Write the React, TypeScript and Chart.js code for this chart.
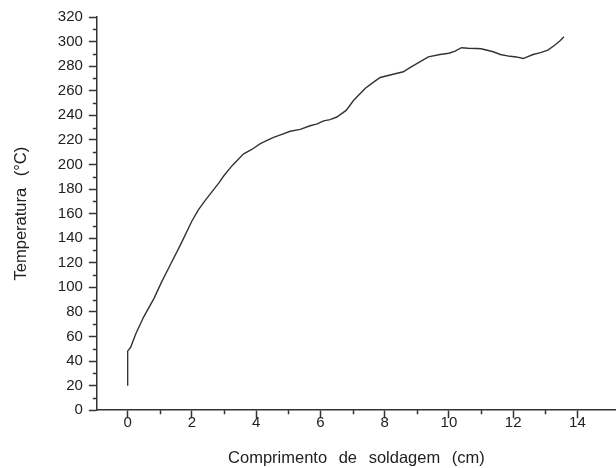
import { useEffect, useRef } from "react";
import { Chart, registerables } from "chart.js";

Chart.register(...registerables);

// Data
const lengthCm = [
  0, 0, 0.04, 0.09, 0.25, 0.5, 0.82, 1.05, 1.34, 1.65, 2.0, 2.2, 2.42, 2.84, 3.0, 3.25,
  3.61, 3.85, 4.13, 4.34, 4.54, 4.8, 5.06, 5.37, 5.68, 5.9, 6.1, 6.3, 6.51, 6.8, 7.03,
  7.39, 7.6, 7.86, 8.2, 8.58, 8.8, 9.0, 9.36, 9.72, 10.0, 10.19, 10.39, 10.6, 10.86,
  11.0, 11.38, 11.6, 11.9, 12.1, 12.31, 12.62, 12.85, 13.08, 13.29, 13.45, 13.58,
];
const temperature = [
  20, 48, 49.5, 51, 62, 76, 91, 104, 119, 135, 154, 163, 171, 185, 191, 199,
  208.7, 212, 217, 219.6, 222, 224.5, 227, 228.5, 231.5, 233, 235.5, 236.5, 238.6, 244, 252,
  261.8, 266, 270.8, 273, 275.4, 279, 282, 287.6, 289.5, 290.5, 292.2, 295, 294.6, 294.4,
  294.2, 291.7, 289.5, 288, 287.5, 286.2, 289.5, 291, 293, 297, 300.5, 304,
];

const xTickValues = [0, 2, 4, 6, 8, 10, 12, 14];
const xMinorValues = [1, 3, 5, 7, 9, 11, 13];
const yTickValues = [0, 20, 40, 60, 80, 100, 120, 140, 160, 180, 200, 220, 240, 260, 280, 300, 320];
const yMinorValues = [10, 30, 50, 70, 90, 110, 130, 150, 170, 190, 210, 230, 250, 270, 290, 310];

const xTitle = "Comprimento de soldagem (cm)";
const yTitle = "Temperatura (°C)";

const AXIS_COLOR = "#333333";
const TEXT_COLOR = "#222222";
const FONT = "'Liberation Sans', Arial, sans-serif";

const wordSpacingPlugin = {
  id: "wordSpacing",
  beforeDraw(chart: any) {
    (chart.ctx as any).wordSpacing = "7px";
  },
  afterDraw(chart: any) {
    (chart.ctx as any).wordSpacing = "0px";
  },
};

const minorTicksPlugin = {
  id: "minorTicks",
  afterDraw(chart: any) {
    const ctx = chart.ctx;
    const xs = chart.scales.x;
    const ys = chart.scales.y;
    ctx.save();
    ctx.strokeStyle = AXIS_COLOR;
    ctx.lineWidth = 1.5;
    ctx.beginPath();
    for (const v of xMinorValues) {
      const px = Math.round(xs.getPixelForValue(v)) + 0.5;
      ctx.moveTo(px, xs.top);
      ctx.lineTo(px, xs.top + 4);
    }
    for (const v of yMinorValues) {
      const py = Math.round(ys.getPixelForValue(v)) + 0.5;
      ctx.moveTo(ys.right, py);
      ctx.lineTo(ys.right - 4, py);
    }
    ctx.stroke();
    ctx.restore();
  },
};

export default function App() {
  const ref = useRef<HTMLCanvasElement | null>(null);

  useEffect(() => {
    if (!ref.current) return;
    const chart = new Chart(ref.current, {
      type: "line",
      data: {
        datasets: [
          {
            data: lengthCm.map((x, i) => ({ x, y: temperature[i] })),
            borderColor: "#333333",
            borderWidth: 1.4,
            pointRadius: 0,
            tension: 0,
            fill: false,
          },
        ],
      },
      options: {
        animation: false,
        responsive: false,
        maintainAspectRatio: false,
        layout: { padding: { left: 4, right: 0, top: 17, bottom: 0 } },
        plugins: { legend: { display: false }, tooltip: { enabled: false } },
        scales: {
          x: {
            type: "linear",
            min: -0.96,
            max: 15.2,
            afterBuildTicks: (axis: any) => {
              axis.ticks = xTickValues.map((v) => ({ value: v }));
            },
            grid: {
              drawOnChartArea: false,
              drawTicks: true,
              tickLength: 8,
              tickColor: AXIS_COLOR,
              tickWidth: 1.5,
            },
            border: { display: true, color: AXIS_COLOR, width: 1.5 },
            ticks: {
              color: TEXT_COLOR,
              font: { family: FONT, size: 15 },
              padding: -4,
              maxRotation: 0,
              autoSkip: false,
            },
            title: {
              display: true,
              text: xTitle,
              color: TEXT_COLOR,
              font: { family: FONT, size: 16.5 },
              padding: { top: 20, bottom: 0 },
            },
          },
          y: {
            type: "linear",
            min: 0,
            max: 320,
            afterBuildTicks: (axis: any) => {
              axis.ticks = yTickValues.map((v) => ({ value: v }));
            },
            grid: {
              drawOnChartArea: false,
              drawTicks: true,
              tickLength: 8,
              tickColor: AXIS_COLOR,
              tickWidth: 1.5,
            },
            border: { display: true, color: AXIS_COLOR, width: 1.5 },
            ticks: {
              color: TEXT_COLOR,
              font: { family: FONT, size: 15 },
              padding: 6,
              autoSkip: false,
            },
            title: {
              display: true,
              text: yTitle,
              color: TEXT_COLOR,
              font: { family: FONT, size: 16.5 },
              padding: { top: 8, bottom: 20 },
            },
          },
        },
      },
      plugins: [wordSpacingPlugin, minorTicksPlugin],
    });
    return () => chart.destroy();
  }, []);

  return (
    <div style={{ position: "fixed", left: 0, top: 0, width: 616, height: 468, background: "#fff" }}>
      <canvas ref={ref} width={616} height={468} style={{ width: 616, height: 468 }} />
    </div>
  );
}
